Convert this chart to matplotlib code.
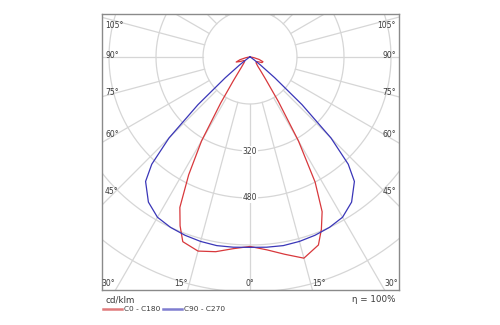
import numpy as np
import matplotlib
matplotlib.use("Agg")
import matplotlib.pyplot as plt
from matplotlib.lines import Line2D

# Luminous intensity (cd/klm) against angle from nadir (degrees)
c0_angles = [0, 5, 10, 15, 20, 22.5, 25, 27.5, 30, 32.5, 35, 37.5, 40, 45,
             50, 55, 60, 65, 70, 75, 80, 85, 90]
c0_values = [645, 659, 682, 709, 681, 635, 581, 480, 330, 180, 95, 60, 42, 30,
             27, 27, 33, 45, 47, 32, 14, 5, 0]
c180_values = [645, 655, 673, 684, 669, 622, 565, 452, 330, 185, 100, 62, 45, 30,
               24, 22, 24, 36, 50, 35, 15, 5, 0]

c90_angles = [0, 5, 10, 15, 20, 25, 30, 35, 40, 42.5, 45, 47.5, 50, 52.5, 55,
              60, 65, 70, 90]
c90_values = [648, 650, 652, 650, 646, 640, 630, 603, 553, 495, 390, 240, 110,
              45, 18, 6, 3, 1, 0]

ring_values = [160, 320, 480, 640, 800]
ring_labels = [320, 480]
angle_labels = [0, 15, 30, 45, 60, 75, 90, 105]

legend_names = ["C0 - C180", "C90 - C270"]
unit_text = "cd/klm"
efficiency_text = "η = 100%"

RED = "#d8383c"
BLUE = "#3a36b8"
GRID = "#d6d6d6"
TEXT = "#3a3a3a"

W, H = 500, 325
left, top, right, bottom = 102, 14, 399, 290
cx, cy = 250, 57
k = 47 / 160  # pixels per cd/klm

fig = plt.figure(figsize=(W / 100, H / 100), dpi=100)
ax = fig.add_axes([left / W, 1 - bottom / H, (right - left) / W, (bottom - top) / H])
ax.set_xlim((left - cx) / k, (right - cx) / k)
ax.set_ylim(-(bottom - cy) / k, (cy - top) / k)
ax.set_xticks([])
ax.set_yticks([])
for s in ax.spines.values():
    s.set_color("#8a8a8a")
    s.set_linewidth(1.0)

# grid rings and rays
t = np.linspace(0, 2 * np.pi, 721)
for r in ring_values:
    ax.plot(r * np.sin(t), r * np.cos(t), color=GRID, lw=0.9, zorder=1)
for a in np.arange(0, 360, 15):
    g = np.radians(a)
    rr = np.array([ring_values[0], 3000])
    ax.plot(rr * np.sin(g), -rr * np.cos(g), color=GRID, lw=0.9, zorder=1)

for v in ring_labels:
    ax.text(0, -v, str(v), ha="center", va="center", fontsize=5.5, color=TEXT,
            zorder=3, bbox=dict(facecolor="white", edgecolor="none", pad=0.6))


def polar_xy(angles, values, side):
    g = np.radians(angles)
    v = np.asarray(values, dtype=float)
    return side * v * np.sin(g), -v * np.cos(g)


# C0 - C180 plane
xr, yr = polar_xy(c0_angles, c0_values, 1)
xl, yl = polar_xy(c0_angles, c180_values, -1)
ax.plot(np.concatenate([xl[::-1], xr]), np.concatenate([yl[::-1], yr]),
        color=RED, lw=0.9, zorder=4)

# C90 - C270 plane
xr, yr = polar_xy(c90_angles, c90_values, 1)
xl, yl = polar_xy(c90_angles, c90_values, -1)
ax.plot(np.concatenate([xl[::-1], xr]), np.concatenate([yl[::-1], yr]),
        color=BLUE, lw=0.9, zorder=5)

# angle labels around the frame
side_x = 140 / k
for a in angle_labels:
    lab = f"{a}°"
    g = np.radians(a)
    if a <= 30:
        y = -(bottom - 6 - cy) / k
        x = (bottom - cy) / k * np.tan(g)
        if a == 0:
            ax.text(0, y, lab, ha="center", va="center", fontsize=5.5, color=TEXT)
        else:
            ax.text(-x, y, lab, ha="right", va="center", fontsize=5.5, color=TEXT)
            ax.text(x, y, lab, ha="left", va="center", fontsize=5.5, color=TEXT)
    else:
        y = -side_x / np.tan(g)
        y = 0.97 * y + 1 / k
        y = min(y, (cy - 25) / k)
        ax.text((left + 3 - cx) / k, y, lab, ha="left", va="center",
                fontsize=5.5, color=TEXT)
        ax.text((right - 3 - cx) / k, y, lab, ha="right", va="center",
                fontsize=5.5, color=TEXT)

# footer: unit, legend, efficiency
fig.text(105 / W, 1 - 300 / H, unit_text, ha="left", va="center",
         fontsize=6.3, color=TEXT)
fig.text(395 / W, 1 - 300 / H, efficiency_text, ha="right", va="center",
         fontsize=6.3, color=TEXT)
leg_y = 1 - 309 / H
for (x0, x1, xt), name, col in zip([(103, 122, 124), (163, 182, 184)],
                                   legend_names, ["#e07a7c", "#7f7dd0"]):
    fig.add_artist(Line2D([x0 / W, x1 / W], [leg_y, leg_y], color=col, lw=1.8))
    fig.text(xt / W, leg_y, name, ha="left", va="center", fontsize=5.3, color=TEXT)

fig.savefig("out.png", dpi=100)
